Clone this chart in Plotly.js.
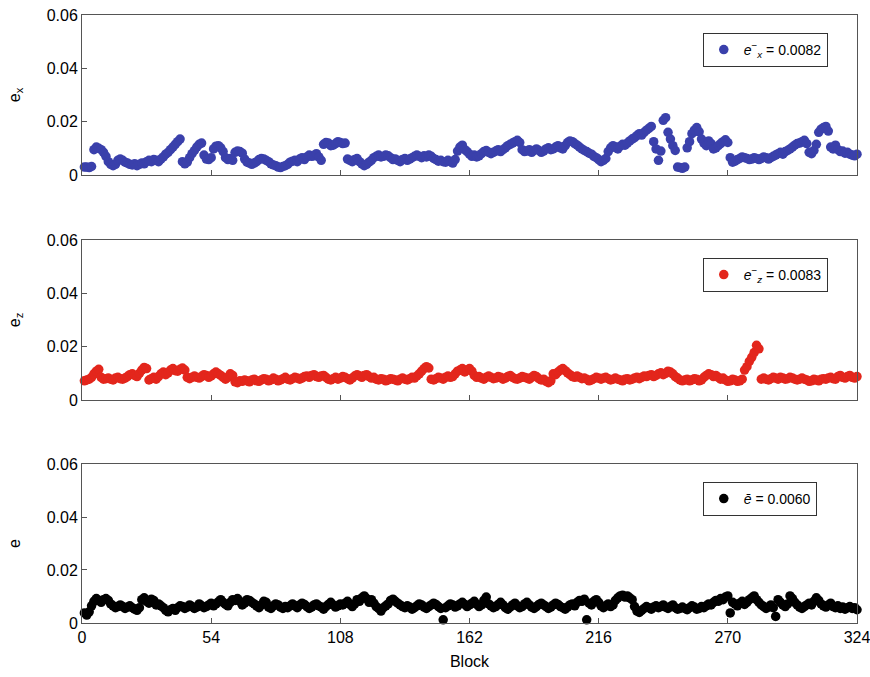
<!DOCTYPE html>
<html>
<head>
<meta charset="utf-8">
<script src="https://cdn.plot.ly/plotly-3.0.1.min.js"></script>
<style>html,body{margin:0;padding:0;background:#fff;}#chart{width:870px;height:677px;}</style>
</head>
<body>
<div id="chart"></div>
<script>
// Block index shared by all panels
const blocks = Array.from({length: 324}, (_, i) => i + 1);

// e_x values (top panel)
const ex = [
0.003,0.003,0.0028,0.0032,0.0095,0.0105,0.010,0.0095,0.0085,0.007,
0.005,0.004,0.0035,0.004,0.0055,0.006,0.0055,0.0048,0.0045,0.004,
0.0038,0.0042,0.0035,0.004,0.0045,0.0042,0.005,0.0055,0.005,0.0058,
0.0055,0.005,0.006,0.0068,0.0078,0.0085,0.0095,0.0105,0.0115,0.0125,
0.0135,0.005,0.0042,0.0048,0.0065,0.008,0.0092,0.0105,0.0115,0.012,
0.0075,0.006,0.0058,0.0065,0.0098,0.0108,0.011,0.0102,0.0088,0.0065,
0.0058,0.0062,0.0055,0.0085,0.009,0.0088,0.0082,0.006,0.0048,0.0045,
0.004,0.0045,0.005,0.0058,0.0062,0.006,0.0055,0.005,0.0042,0.0038,
0.0035,0.003,0.0028,0.0032,0.0035,0.004,0.0048,0.0052,0.0055,0.005,
0.006,0.0065,0.0058,0.0068,0.0075,0.007,0.0072,0.008,0.0068,0.0055,
0.0115,0.0122,0.012,0.011,0.0112,0.0118,0.0125,0.0122,0.0118,0.012,
0.006,0.0055,0.005,0.0058,0.0062,0.005,0.0042,0.0035,0.004,0.0048,
0.0055,0.0065,0.007,0.0075,0.0068,0.007,0.0075,0.0072,0.0065,0.0058,
0.006,0.0055,0.005,0.0058,0.0062,0.0055,0.006,0.0065,0.007,0.0075,
0.007,0.0065,0.0072,0.0068,0.0075,0.007,0.0062,0.0058,0.0052,0.0055,
0.005,0.0048,0.0055,0.005,0.0045,0.0058,0.009,0.0105,0.0112,0.0095,
0.0088,0.0078,0.007,0.0075,0.0068,0.0072,0.008,0.0088,0.0092,0.0085,
0.008,0.0085,0.009,0.0095,0.0088,0.0095,0.0102,0.011,0.0115,0.012,
0.0125,0.013,0.0122,0.0095,0.0088,0.009,0.0095,0.0085,0.0092,0.0098,
0.0092,0.0085,0.009,0.0098,0.0102,0.0095,0.0098,0.0105,0.011,0.0102,
0.0098,0.011,0.0122,0.0128,0.0125,0.0118,0.0112,0.0105,0.0098,0.0092,
0.0088,0.0082,0.0078,0.007,0.0065,0.0058,0.005,0.0055,0.0062,0.0088,
0.0102,0.011,0.0105,0.0098,0.0108,0.0115,0.0112,0.012,0.0128,0.0135,
0.014,0.0148,0.0155,0.015,0.016,0.0168,0.0175,0.0182,0.0125,0.0098,
0.0055,0.009,0.0205,0.0215,0.016,0.0135,0.011,0.0092,0.003,0.0028,
0.0025,0.003,0.0102,0.0125,0.0155,0.0168,0.0178,0.0162,0.0135,0.012,
0.011,0.0128,0.0118,0.0098,0.0102,0.011,0.0118,0.0125,0.0132,0.0122,
0.0065,0.0048,0.0052,0.0058,0.0062,0.0068,0.0065,0.0062,0.0058,0.006,
0.0065,0.0062,0.0058,0.0062,0.0068,0.0065,0.006,0.0065,0.007,0.0075,
0.008,0.0085,0.0078,0.0088,0.0092,0.0098,0.0105,0.0112,0.0118,0.012,
0.0125,0.013,0.0118,0.0085,0.008,0.0092,0.0115,0.016,0.0172,0.0178,
0.0182,0.0165,0.0105,0.0098,0.0112,0.0095,0.0088,0.009,0.0082,0.0085,
0.0078,0.0075,0.0072,0.0078
];

// e_z values (middle panel)
const ez = [
0.0072,0.0075,0.0078,0.0085,0.0098,0.0108,0.0115,0.0085,0.0078,0.008,
0.0082,0.0078,0.0075,0.0082,0.0085,0.008,0.0078,0.0082,0.0088,0.0095,
0.0098,0.0092,0.0088,0.010,0.0112,0.0122,0.0118,0.0075,0.008,0.0085,
0.0078,0.0088,0.0098,0.0105,0.0095,0.0102,0.0112,0.0118,0.011,0.0108,
0.0115,0.012,0.0112,0.0085,0.008,0.0085,0.009,0.0085,0.0082,0.0088,
0.0095,0.0092,0.0085,0.009,0.0098,0.0105,0.0098,0.0092,0.0085,0.0078,
0.0085,0.0098,0.0092,0.0068,0.0065,0.0072,0.007,0.0075,0.0072,0.0068,
0.0075,0.0078,0.0072,0.007,0.0075,0.008,0.0078,0.0072,0.0075,0.0082,
0.0078,0.0072,0.0075,0.008,0.0085,0.0078,0.0075,0.008,0.0085,0.0082,
0.0078,0.0082,0.0088,0.009,0.0085,0.0092,0.0095,0.0088,0.0085,0.009,
0.0092,0.0085,0.0078,0.0075,0.008,0.0085,0.0078,0.0082,0.0088,0.0085,
0.008,0.0075,0.0082,0.009,0.0095,0.009,0.0085,0.0092,0.0095,0.0088,
0.0082,0.0085,0.0078,0.0075,0.008,0.0078,0.0072,0.0075,0.008,0.0078,
0.0075,0.0072,0.0078,0.0082,0.0078,0.0075,0.008,0.0085,0.0082,0.009,
0.0098,0.0108,0.0118,0.0125,0.012,0.0078,0.0075,0.008,0.0085,0.0082,
0.0078,0.0085,0.009,0.0085,0.0088,0.0098,0.0108,0.0112,0.0118,0.0105,
0.0112,0.0118,0.0108,0.0092,0.0085,0.0088,0.0082,0.0078,0.0085,0.009,
0.0085,0.008,0.0082,0.0088,0.0085,0.0078,0.0082,0.0088,0.0092,0.0085,
0.008,0.0078,0.0082,0.0088,0.0085,0.0082,0.0078,0.0085,0.0092,0.0088,
0.008,0.0075,0.0078,0.007,0.0065,0.0072,0.0098,0.0095,0.0105,0.0112,
0.0118,0.011,0.0102,0.0095,0.0088,0.0085,0.009,0.0085,0.008,0.0082,
0.0078,0.0072,0.0075,0.008,0.0085,0.0082,0.0078,0.0082,0.0085,0.008,
0.0075,0.0078,0.0082,0.0078,0.0075,0.0072,0.0078,0.008,0.0075,0.0078,
0.0082,0.0085,0.008,0.0085,0.009,0.0088,0.0092,0.0095,0.0088,0.0092,
0.0098,0.0102,0.0095,0.010,0.0108,0.0105,0.0098,0.0088,0.0082,0.0075,
0.0072,0.0075,0.0078,0.0072,0.0075,0.008,0.0078,0.0072,0.0075,0.0085,
0.0092,0.0098,0.0095,0.0088,0.0092,0.0085,0.0078,0.0082,0.0075,0.007,
0.0072,0.0078,0.0075,0.007,0.0072,0.0078,0.0112,0.0125,0.0145,0.016,
0.0178,0.0205,0.0192,0.0078,0.0082,0.0078,0.0075,0.008,0.0085,0.0082,
0.0078,0.0085,0.0082,0.0078,0.008,0.0085,0.0082,0.0078,0.0075,0.0078,
0.0082,0.0078,0.0075,0.007,0.0072,0.0078,0.0075,0.0072,0.0078,0.008,
0.0078,0.0082,0.0085,0.008,0.0078,0.0088,0.0092,0.0085,0.0082,0.0088,
0.0092,0.0085,0.0082,0.0088
];

// e values (bottom panel)
const e = [
0.0038,0.003,0.0042,0.0065,0.0082,0.0092,0.0085,0.0078,0.0088,0.0092,
0.0085,0.0072,0.0065,0.0058,0.0062,0.0068,0.0062,0.0055,0.006,0.0065,
0.0058,0.0052,0.0048,0.0058,0.0088,0.0095,0.0082,0.0075,0.009,0.0085,
0.0068,0.0072,0.0065,0.0058,0.0048,0.0042,0.005,0.0055,0.0048,0.0058,
0.0065,0.0062,0.0055,0.006,0.0068,0.0062,0.0055,0.006,0.0072,0.0065,
0.0058,0.0062,0.0068,0.0075,0.0065,0.0072,0.008,0.0088,0.0078,0.007,
0.0065,0.0078,0.0088,0.0085,0.0092,0.0082,0.0068,0.0075,0.0088,0.0085,
0.0078,0.0072,0.0065,0.0058,0.0068,0.0082,0.0078,0.006,0.0055,0.0065,
0.0072,0.0068,0.006,0.0055,0.0062,0.0058,0.0065,0.0072,0.0065,0.0058,
0.0068,0.0075,0.007,0.0062,0.0055,0.006,0.0068,0.0072,0.0065,0.006,
0.0052,0.0062,0.007,0.0078,0.0068,0.006,0.0065,0.0072,0.0068,0.0075,
0.0082,0.007,0.0062,0.0072,0.0088,0.0082,0.0095,0.0102,0.0092,0.0078,
0.0088,0.0075,0.0062,0.0055,0.0045,0.0058,0.0065,0.0072,0.0085,0.009,
0.0082,0.0075,0.0068,0.0062,0.0058,0.0065,0.006,0.0052,0.0058,0.0065,
0.0072,0.0068,0.006,0.0055,0.0062,0.0068,0.0075,0.007,0.0062,0.0055,
0.0012,0.0058,0.0065,0.0072,0.0068,0.006,0.0065,0.0072,0.0078,0.007,
0.0062,0.0068,0.0075,0.0082,0.007,0.0062,0.0068,0.0085,0.0098,0.0072,
0.0065,0.0058,0.0062,0.007,0.0078,0.0068,0.0058,0.0052,0.006,0.0068,
0.0075,0.0065,0.0058,0.0062,0.0072,0.0078,0.0068,0.006,0.0055,0.0062,
0.007,0.0075,0.0068,0.0062,0.0055,0.006,0.0068,0.0075,0.007,0.0062,
0.0058,0.0052,0.006,0.0068,0.0072,0.0065,0.0078,0.0085,0.0082,0.009,
0.0012,0.0075,0.0068,0.0082,0.0088,0.0078,0.0065,0.0058,0.0065,0.0072,
0.0062,0.0068,0.0085,0.0095,0.0102,0.0105,0.0098,0.0102,0.0095,0.0088,
0.0062,0.0045,0.004,0.0048,0.0055,0.0062,0.0058,0.0052,0.006,0.0065,
0.0058,0.0062,0.0068,0.006,0.0055,0.0062,0.0068,0.0058,0.0052,0.0055,
0.006,0.0055,0.005,0.0058,0.0065,0.006,0.0052,0.0055,0.0062,0.0058,
0.0065,0.0072,0.0068,0.0078,0.0085,0.0082,0.0092,0.0088,0.0098,0.0102,
0.0038,0.0078,0.0072,0.0065,0.0075,0.0082,0.007,0.0078,0.0088,0.0095,
0.0102,0.0088,0.0078,0.0068,0.0062,0.0055,0.006,0.0068,0.0058,0.0025,
0.0088,0.0078,0.0068,0.0062,0.0072,0.0102,0.0092,0.0078,0.0068,0.006,
0.0055,0.0062,0.0068,0.0075,0.0068,0.0082,0.0095,0.0085,0.0072,0.0065,
0.006,0.0068,0.0075,0.0062,0.0058,0.0065,0.0055,0.006,0.0052,0.0058,
0.0062,0.0055,0.0058,0.005
];

const legendNames = [
  '<i>e</i><sup>−</sup><sub><i>x</i></sub> = 0.0082',
  '<i>e</i><sup>−</sup><sub><i>z</i></sub> = 0.0083',
  '<i>ē</i> = 0.0060'
];
const yTitles = ['e<sub>x</sub>', 'e<sub>z</sub>', 'e'];
const xTickVals = [0, 54, 108, 162, 216, 270, 324];
const yTickVals = [0, 0.02, 0.04, 0.06];
const yTickText = ['0', '0.02', '0.04', '0.06'];
const colors = ['#3a40ab', '#e3261c', '#000000'];

const series = [ex, ez, e];
const traces = series.map((ys, i) => ({
  x: blocks, y: ys, type: 'scatter', mode: 'markers',
  name: legendNames[i],
  xaxis: i === 0 ? 'x' : 'x' + (i + 1),
  yaxis: i === 0 ? 'y' : 'y' + (i + 1),
  legend: i === 0 ? 'legend' : 'legend' + (i + 1),
  marker: {color: colors[i], size: 9.5, line: {width: 0}},
  cliponaxis: false,
  showlegend: true
}));

const font = {family: 'Liberation Sans, Arial, sans-serif', size: 16, color: '#000'};
const axisLine = '#555';
function xAxis(anchor, showLabels) {
  const a = {
    domain: [0, 1], anchor: anchor, range: [0, 324],
    tickvals: xTickVals, ticks: 'inside', ticklen: 5, tickcolor: axisLine,
    showline: true, linecolor: axisLine, linewidth: 1, mirror: true,
    showgrid: false, zeroline: false, showticklabels: showLabels,
    tickfont: {size: 16}, ticklabeloverflow: 'allow'
  };
  if (showLabels) a.title = {text: 'Block', font: {size: 16}, standoff: 10};
  return a;
}
function yAxis(anchor, domain, title) {
  return {
    domain: domain, anchor: anchor, range: [0, 0.06],
    tickvals: yTickVals, ticktext: yTickText, ticks: 'inside', ticklen: 5, tickcolor: axisLine,
    showline: true, linecolor: axisLine, linewidth: 1, mirror: true,
    showgrid: false, zeroline: false, tickfont: {size: 16},
    title: {text: title, font: {size: 16}, standoff: 22}
  };
}
function legend(y) {
  return {
    x: 0.801, y: y, xanchor: 'left', yanchor: 'top', xref: 'paper', yref: 'paper',
    bgcolor: '#fff', bordercolor: '#333', borderwidth: 1,
    font: {size: 14}, itemwidth: 30
  };
}

const layout = {
  width: 870, height: 677,
  margin: {l: 82, r: 13, t: 15, b: 54},
  paper_bgcolor: '#fff', plot_bgcolor: '#fff',
  font: font,
  showlegend: true,
  xaxis: xAxis('y', false),
  xaxis2: xAxis('y2', false),
  xaxis3: xAxis('y3', true),
  yaxis: yAxis('x', [0.7368, 1], yTitles[0]),
  yaxis2: yAxis('x2', [0.3668, 0.6299], yTitles[1]),
  yaxis3: yAxis('x3', [0, 0.2615], yTitles[2]),
  legend: legend(0.9704),
  legend2: legend(0.6003),
  legend3: legend(0.2319)
};

Plotly.newPlot('chart', traces, layout, {displayModeBar: false, staticPlot: true});
</script>
</body>
</html>
